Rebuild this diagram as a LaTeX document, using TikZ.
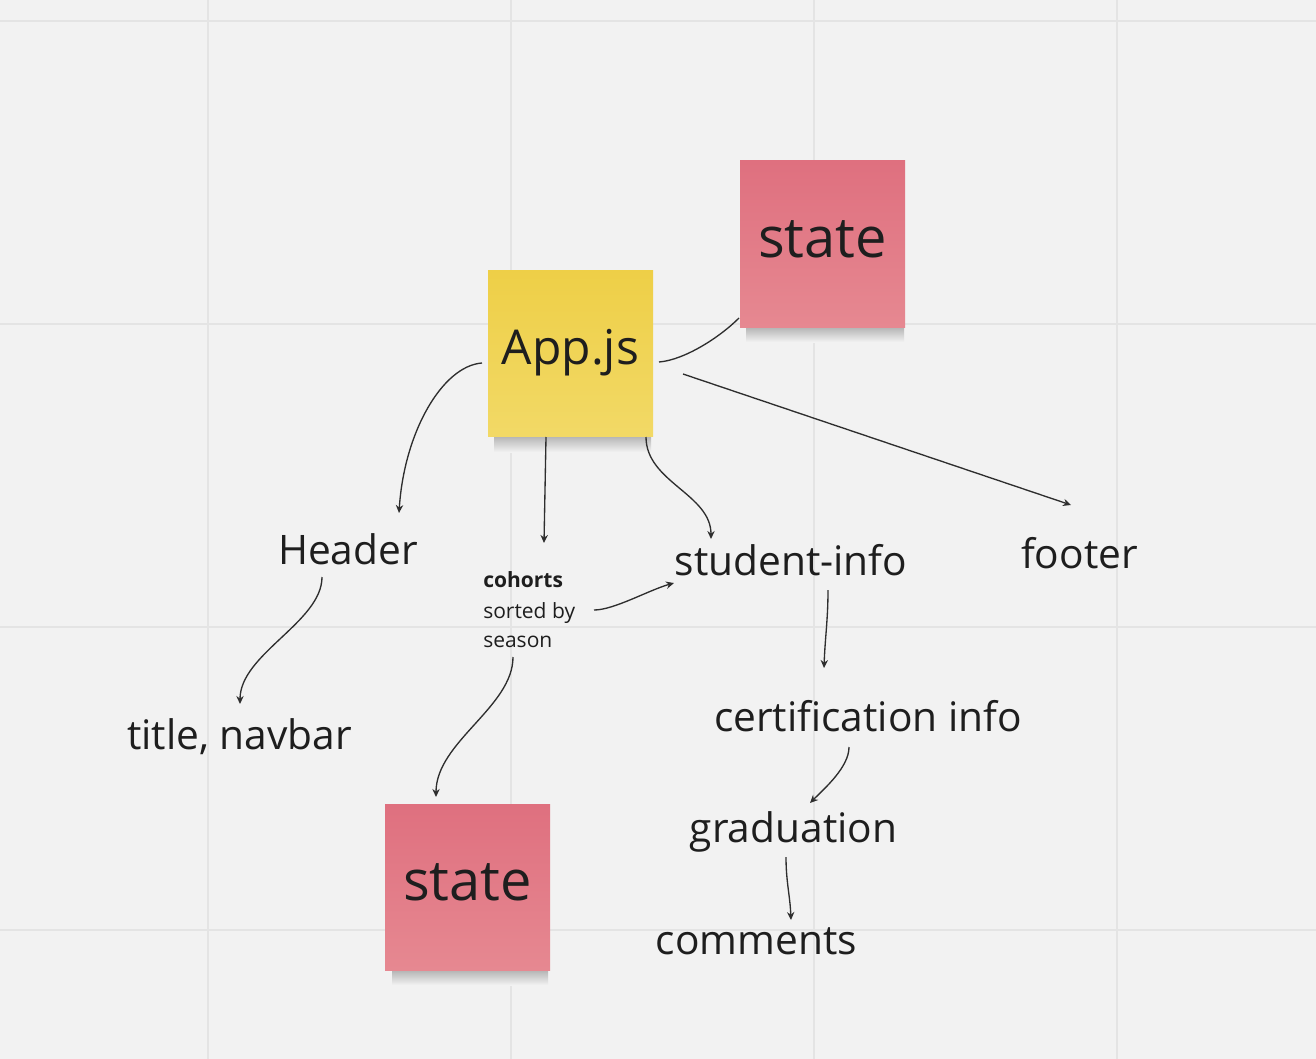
\documentclass[tikz,border=0pt]{standalone}
\usepackage{fontspec}
\setmainfont{Open Sans}
\usetikzlibrary{arrows.meta,calc}
\definecolor{bg}{HTML}{F2F2F2}
\definecolor{gridc}{HTML}{E4E4E4}
\definecolor{ink}{HTML}{1E1E1E}
\definecolor{wire}{HTML}{2E2E2E}
\definecolor{yelT}{HTML}{EECF47}
\definecolor{yelB}{HTML}{F2D966}
\definecolor{redT}{HTML}{DF707F}
\definecolor{redB}{HTML}{E68891}
\definecolor{shad}{HTML}{B3B3B3}
\tikzset{
  note/.style={inner sep=0pt, minimum width=123.75pt, minimum height=124.5pt, text=ink},
  yelnote/.style={note, top color=yelT, bottom color=yelB, font=\fontsize{36}{40}\selectfont},
  rednote/.style={note, top color=redT, bottom color=redB, text depth=8pt, font=\fontsize{42}{46}\selectfont},
  lbl/.style={inner sep=0pt, anchor=base, text=ink, font=\fontsize{30.5}{36}\selectfont},
  small/.style={inner sep=0pt, anchor=base west, text=ink, font=\fontsize{15.75}{20}\selectfont},
  wire/.style={draw=wire, line width=1pt},
  arr/.style={wire, -{Stealth[length=6pt,width=5.5pt]}},
  gridline/.style={draw=gridc, line width=1.5pt},
  shadowband/.style={top color=shad, bottom color=bg, draw=none}
}
\begin{document}
\begin{tikzpicture}[x=0.75pt,y=-0.75pt]
\fill[bg] (0,0) rectangle (1316,1059);
\useasboundingbox (0,0) rectangle (1316,1059);
\foreach \x in {208,511,814,1117} \draw[gridline] (\x,0) -- (\x,1059);
\foreach \y in {21,324,627,930} \draw[gridline] (0,\y) -- (1316,\y);

% shadows
\shade[shadowband] (494,436) rectangle (651,452);
\shade[shadowband] (746,327) rectangle (904,342);
\shade[shadowband] (392,970) rectangle (548,985);

% sticky notes
\node[yelnote] (app) at (570.5,353) {App.js};
\node[rednote] (st1) at (822.5,244) {state};
\node[rednote] (st2) at (467.5,887) {state};

% labels
\node[lbl] (header) at (348,564) {Header};
\node[lbl] (student) at (791,575) {student-info};
\node[lbl] (footer) at (1079.5,568) {footer};
\node[lbl] (title) at (239.5,749) {title, navbar};
\node[lbl] (cert) at (868,731) {certification info};
\node[lbl] (grad) at (793.5,842) {graduation};
\node[lbl] (comments) at (756.5,954) {comments};
\node[small, font=\fontsize{15.75}{20}\selectfont\bfseries] (coh1) at (483,587) {cohorts};
\node[small] (coh2) at (483,618) {sorted by};
\node[small] (coh3) at (483,647) {season};

% connectors
\draw[arr] ($(app.center)+(-88.5,10)$) .. controls +(-40,3) and +(5,-80) .. ($(header.base)+(51,-51)$);
\draw[arr] ($(app.center)+(-24.5,84)$) -- ($(coh1.base west)+(61,-44)$);
\draw[arr] ($(app.center)+(75.5,84)$) .. controls +(0,45) and +(0,-45) .. ($(student.base)+(-80,-36)$);
\draw[wire] ($(app.center)+(88.5,9)$) .. controls +(25,-2) and +(-20,20) .. ($(st1.center)+(-83.5,74)$);
\draw[arr] ($(app.center)+(112.5,21)$) -- ($(footer.base)+(-8.5,-63)$);
\draw[arr] ($(header.base)+(-26,13)$) .. controls +(0,45) and +(0,-50) .. ($(title.base)+(0.5,-45)$);
\draw[arr] ($(coh2.base west)+(111,-8)$) .. controls +(20,0) and +(-25,7) .. ($(student.base)+(-117,8)$);
\draw[arr] ($(coh3.base west)+(30,10)$) .. controls +(0,50) and +(0,-55) .. ($(st2.center)+(-31.5,-90)$);
\draw[arr] ($(student.base)+(37,15)$) .. controls +(0,30) and +(1,-30) .. ($(cert.base)+(-44,-63)$);
\draw[arr] ($(cert.base)+(-19,16)$) .. controls +(0,20) and +(15,-15) .. ($(grad.base)+(16.5,-39)$);
\draw[arr] ($(grad.base)+(-7.5,15)$) .. controls +(0,25) and +(-1,-25) .. ($(comments.base)+(34.5,-34)$);
\end{tikzpicture}
\end{document}
